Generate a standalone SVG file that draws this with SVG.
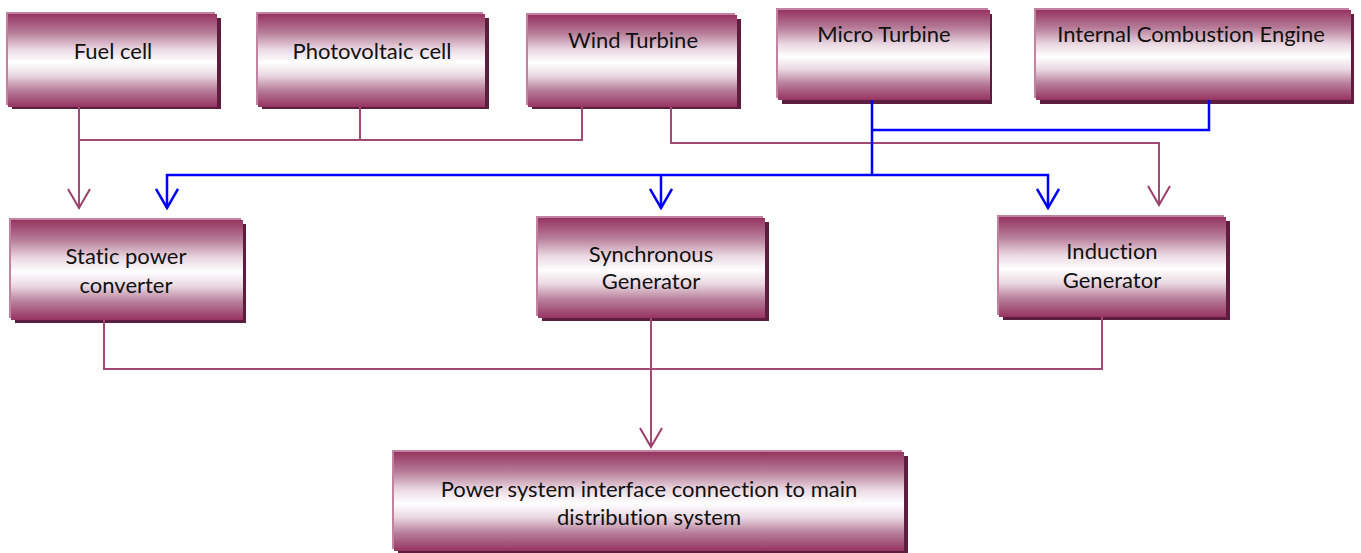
<svg xmlns="http://www.w3.org/2000/svg" width="1361" height="553" viewBox="0 0 1361 553">
<defs>
<linearGradient id="g" x1="0" y1="0" x2="0" y2="1">
<stop offset="0" stop-color="#963461"/>
<stop offset="0.2" stop-color="#b77d99"/>
<stop offset="0.38" stop-color="#ead8e1"/>
<stop offset="0.52" stop-color="#ffffff"/>
<stop offset="0.66" stop-color="#ead8e1"/>
<stop offset="0.82" stop-color="#b77d99"/>
<stop offset="1" stop-color="#963461"/>
</linearGradient>
<marker id="ap" viewBox="0 0 22 24" refX="20" refY="12" markerWidth="22" markerHeight="24" markerUnits="userSpaceOnUse" orient="auto-start-reverse">
<path d="M1,1 L20,12 L1,23" fill="none" stroke="#9c3d6c" stroke-width="2"/>
</marker>
<marker id="ab" viewBox="0 0 22 24" refX="20" refY="12" markerWidth="22" markerHeight="24" markerUnits="userSpaceOnUse" orient="auto-start-reverse">
<path d="M1,1 L20,12 L1,23" fill="none" stroke="#0000ff" stroke-width="2.5"/>
</marker>
</defs>
<style>
.hl{fill:#c283a3}
.sh{fill:#5c1d3f}
.bx{fill:url(#g)}
text{font-family:Lato,"Open Sans",sans-serif;font-size:22px;fill:#111;text-anchor:middle;font-variant-ligatures:none}
.p{fill:none;stroke:#a24a76;stroke-width:2}
.b{fill:none;stroke:#0000ff;stroke-width:2.5}
</style>
<g id="fuel">
<rect class="hl" x="6" y="12" width="209" height="93"/><rect class="sh" x="12" y="18" width="209" height="91"/><rect class="bx" x="8" y="14" width="209" height="93"/>
<text x="113" y="59">Fuel cell</text></g>
<g id="pv">
<rect class="hl" x="256" y="12" width="227" height="93"/><rect class="sh" x="262" y="18" width="227" height="91"/><rect class="bx" x="258" y="14" width="227" height="93"/>
<text x="372" y="59">Photovoltaic cell</text></g>
<g id="wind">
<rect class="hl" x="526" y="13" width="209" height="92"/><rect class="sh" x="532" y="19" width="209" height="90"/><rect class="bx" x="528" y="15" width="209" height="92"/>
<text x="633" y="48">Wind Turbine</text></g>
<g id="micro">
<rect class="hl" x="776" y="8" width="212" height="90"/><rect class="sh" x="782" y="14" width="210" height="90"/><rect class="bx" x="778" y="10" width="212" height="90"/>
<text x="884" y="42">Micro Turbine</text></g>
<g id="ice">
<rect class="hl" x="1034" y="8" width="315" height="90"/><rect class="sh" x="1040" y="14" width="314" height="90"/><rect class="bx" x="1036" y="10" width="315" height="90"/>
<text x="1191" y="42">Internal Combustion Engine</text></g>
<g id="static">
<rect class="hl" x="9" y="218" width="232" height="100"/><rect class="sh" x="15" y="224" width="231" height="99"/><rect class="bx" x="11" y="220" width="232" height="100"/>
<text x="126" y="264">Static power</text><text x="126" y="293">converter</text></g>
<g id="sync">
<rect class="hl" x="536" y="216" width="227" height="100"/><rect class="sh" x="542" y="222" width="227" height="99"/><rect class="bx" x="538" y="218" width="227" height="100"/>
<text x="651" y="262">Synchronous</text><text x="651" y="289">Generator</text></g>
<g id="ind">
<rect class="hl" x="997" y="215" width="227" height="100"/><rect class="sh" x="1003" y="221" width="227" height="99"/><rect class="bx" x="999" y="217" width="227" height="100"/>
<text x="1112" y="259">Induction</text><text x="1112" y="288">Generator</text></g>
<g id="psi">
<rect class="hl" x="392" y="450" width="510" height="99"/><rect class="sh" x="398" y="456" width="510" height="97"/><rect class="bx" x="394" y="452" width="510" height="99"/>
<text x="649" y="497">Power system interface connection to main</text><text x="649" y="525">distribution system</text></g>
<g id="connectors">
<path class="p" d="M79,107 V208" marker-end="url(#ap)"/>
<path class="p" d="M79,140 H582 V107 M360,107 V140"/>
<path class="p" d="M671,107 V143 H1159 V205" marker-end="url(#ap)"/>
<path class="b" d="M872,100 V175 M872,130 H1209 V100"/>
<path class="b" d="M167,208 V175 H1048 V208" marker-start="url(#ab)" marker-end="url(#ab)"/>
<path class="b" d="M661,175 V208" marker-end="url(#ab)"/>
<path class="p" d="M104,320 V369 H1102 V317"/>
<path class="p" d="M651,318 V447" marker-end="url(#ap)"/>
</g>
</svg>
